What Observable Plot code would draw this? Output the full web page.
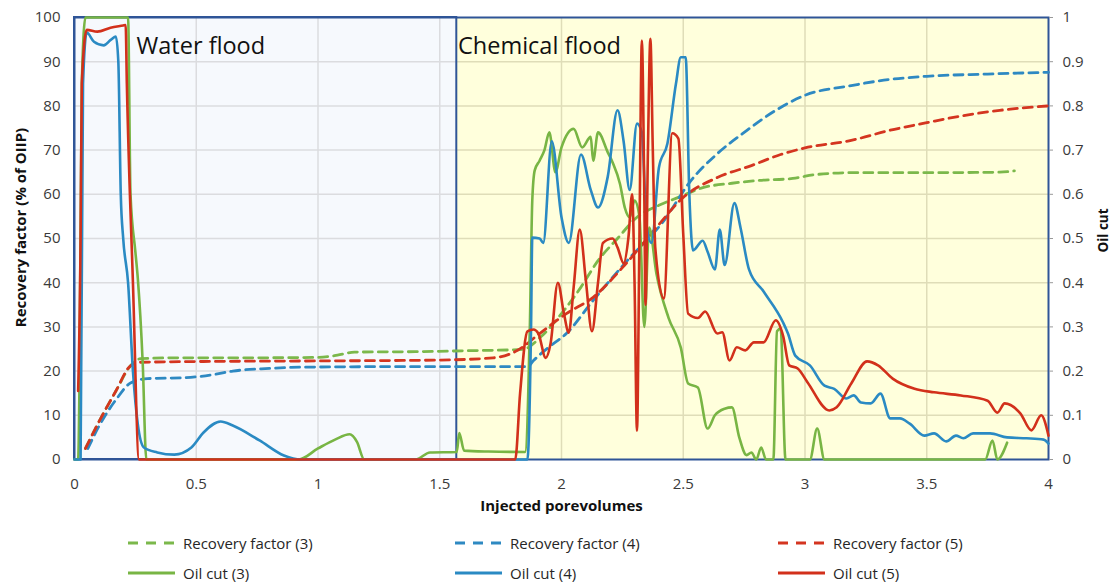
<!DOCTYPE html>
<html>
<head>
<meta charset="utf-8">
<script src="https://cdn.jsdelivr.net/npm/d3@7"></script>
<script src="https://cdn.jsdelivr.net/npm/@observablehq/plot@0.6"></script>
<style>
  body { margin: 0; background: #fff; font-family: "Open Sans", sans-serif; }
  #legend { position: relative; width: 1113px; height: 59px; }
  .item { position: absolute; display: flex; align-items: center; font-size: 15px; color: #262626; line-height: 1; }
  .item svg { margin-right: 8px; }
</style>
</head>
<body>
<div id="chart"></div>
<div id="legend"></div>
<script>
// Recovery factor (% of OIIP) vs injected porevolumes
const rf3 = [[0.045,2.5],[0.1,8.5],[0.17,15.5],[0.23,21.2],[0.27,22.8],[0.4,23],[0.7,23],[1.0,23.1],[1.08,23.6],[1.15,24.3],[1.4,24.4],[1.6,24.6],[1.84,24.9],[1.92,28],[2.0,33],[2.08,39],[2.15,45],[2.23,50],[2.31,54.8],[2.4,57.5],[2.48,59.3],[2.58,61.5],[2.7,62.5],[2.8,63.1],[2.95,63.6],[3.05,64.5],[3.2,64.9],[3.5,64.9],[3.8,65],[3.86,65.3]];
const rf4 = [[0.055,2.5],[0.1,7.5],[0.17,13.5],[0.23,17.3],[0.3,18.3],[0.45,18.5],[0.57,19.2],[0.65,20],[0.8,20.6],[0.95,20.9],[1.3,21],[1.86,21],[1.885,22.4],[1.95,25.5],[2.02,28.5],[2.13,36],[2.27,45],[2.42,54],[2.53,63],[2.64,69.2],[2.76,74.4],[2.88,79],[3.0,82.4],[3.19,84.6],[3.35,86],[3.5,86.7],[3.75,87.2],[4,87.6]];
const rf5 = [[0.045,2.5],[0.1,8.5],[0.17,15.5],[0.23,21.2],[0.27,22],[0.6,22.2],[1.0,22.3],[1.5,22.5],[1.72,23],[1.82,24.7],[1.91,28.5],[2.02,33],[2.13,36.7],[2.25,43.4],[2.39,52.5],[2.5,59.3],[2.64,63.8],[2.78,66.5],[2.9,69],[3.0,70.5],[3.19,72.2],[3.35,74.5],[3.5,76.2],[3.65,77.8],[3.8,79],[4,80]];

// Oil cut (fraction) vs injected porevolumes
const oc3 = [[0,0],[0.015,0],[0.02,0.15],[0.03,0.85],[0.045,1],[0.22,1],[0.23,0.6],[0.25,0.47],[0.26,0.41],[0.28,0.22],[0.295,0],[0.92,0],[1.0,0.025],[1.07,0.045],[1.13,0.057],[1.16,0.04],[1.19,0],[1.4,0],[1.46,0.016],[1.57,0.017],[1.58,0.06],[1.6,0.02],[1.7,0.018],[1.85,0.017],[1.87,0.3],[1.88,0.586],[1.89,0.654],[1.91,0.676],[1.93,0.70],[1.95,0.74],[1.975,0.65],[2.0,0.706],[2.05,0.748],[2.085,0.706],[2.12,0.73],[2.13,0.676],[2.15,0.74],[2.19,0.695],[2.21,0.672],[2.24,0.624],[2.26,0.57],[2.28,0.548],[2.30,0.586],[2.32,0.55],[2.34,0.30],[2.36,0.525],[2.39,0.42],[2.44,0.32],[2.49,0.253],[2.52,0.172],[2.56,0.163],[2.60,0.07],[2.63,0.10],[2.67,0.115],[2.70,0.118],[2.73,0.05],[2.76,0.01],[2.78,0.016],[2.8,0],[2.82,0.027],[2.84,0],[2.87,0],[2.885,0.29],[2.90,0.296],[2.92,0],[3.02,0],[3.05,0.07],[3.08,0],[3.74,0],[3.77,0.043],[3.79,0],[3.83,0.038]];
const oc4 = [[0,0],[0.025,0],[0.035,0.85],[0.05,0.966],[0.08,0.945],[0.12,0.937],[0.15,0.95],[0.17,0.957],[0.18,0.9],[0.19,0.6],[0.2,0.5],[0.22,0.4],[0.24,0.2],[0.26,0.08],[0.285,0.027],[0.34,0.016],[0.41,0.011],[0.48,0.027],[0.53,0.061],[0.60,0.086],[0.65,0.077],[0.76,0.043],[0.86,0.009],[0.93,0],[1.86,0],[1.875,0.3],[1.88,0.502],[1.91,0.50],[1.925,0.49],[1.96,0.72],[2.0,0.548],[2.03,0.49],[2.08,0.69],[2.12,0.61],[2.15,0.57],[2.19,0.64],[2.23,0.79],[2.255,0.72],[2.28,0.61],[2.31,0.76],[2.33,0.74],[2.35,0.525],[2.37,0.49],[2.40,0.66],[2.435,0.715],[2.47,0.85],[2.49,0.91],[2.51,0.91],[2.525,0.6],[2.54,0.473],[2.58,0.495],[2.6,0.47],[2.63,0.43],[2.65,0.52],[2.67,0.44],[2.71,0.58],[2.735,0.525],[2.77,0.43],[2.83,0.38],[2.91,0.31],[2.93,0.285],[2.96,0.235],[3.02,0.213],[3.08,0.167],[3.12,0.16],[3.17,0.138],[3.2,0.145],[3.23,0.129],[3.27,0.127],[3.31,0.149],[3.35,0.093],[3.39,0.093],[3.43,0.081],[3.49,0.054],[3.53,0.059],[3.58,0.041],[3.62,0.054],[3.65,0.048],[3.69,0.059],[3.76,0.059],[3.83,0.05],[3.91,0.048],[3.98,0.045],[4.0,0.036]];
const oc5 = [[0.015,0.155],[0.025,0.5],[0.03,0.85],[0.05,0.972],[0.094,0.968],[0.148,0.977],[0.20,0.982],[0.21,0.983],[0.215,0.85],[0.24,0.4],[0.265,0],[1.81,0],[1.83,0.15],[1.86,0.29],[1.885,0.294],[1.905,0.285],[1.935,0.23],[1.955,0.262],[1.985,0.40],[2.01,0.33],[2.03,0.287],[2.05,0.39],[2.075,0.52],[2.10,0.405],[2.125,0.29],[2.15,0.40],[2.17,0.49],[2.21,0.50],[2.23,0.48],[2.255,0.444],[2.275,0.503],[2.29,0.60],[2.30,0.4],[2.31,0.065],[2.32,0.5],[2.33,0.948],[2.34,0.6],[2.345,0.35],[2.355,0.7],[2.365,0.952],[2.375,0.7],[2.385,0.48],[2.42,0.364],[2.455,0.738],[2.48,0.726],[2.50,0.51],[2.52,0.33],[2.56,0.32],[2.59,0.335],[2.64,0.285],[2.66,0.288],[2.69,0.224],[2.72,0.254],[2.755,0.247],[2.79,0.265],[2.83,0.265],[2.88,0.315],[2.91,0.28],[2.935,0.213],[2.97,0.206],[3.01,0.175],[3.10,0.111],[3.13,0.118],[3.19,0.172],[3.255,0.222],[3.30,0.213],[3.36,0.183],[3.45,0.16],[3.53,0.152],[3.64,0.145],[3.75,0.133],[3.79,0.106],[3.82,0.127],[3.885,0.104],[3.93,0.066],[3.97,0.10],[4.0,0.054]];

// Flood stages shaded behind the curves
const stages = [
  {name: "Water flood", start: 0, end: 1.57, labelX: 0.255, fill: "#f6f9fd", grid: "#dbdcdf"},
  {name: "Chemical flood", start: 1.57, end: 4, labelX: 1.575, fill: "#ffffdc", grid: "#dfddb8"}
];

const xTicks = [0, 0.5, 1, 1.5, 2, 2.5, 3, 3.5, 4];
const yTicks = [0, 10, 20, 30, 40, 50, 60, 70, 80, 90, 100];

const series = [
  {name: "Recovery factor (3)", data: rf3, color: "#7bb84b", dashed: true, cut: false},
  {name: "Recovery factor (4)", data: rf4, color: "#2e89c2", dashed: true, cut: false},
  {name: "Recovery factor (5)", data: rf5, color: "#d43520", dashed: true, cut: false},
  {name: "Oil cut (3)", data: oc3, color: "#78b544", dashed: false, cut: true},
  {name: "Oil cut (4)", data: oc4, color: "#2a8ac3", dashed: false, cut: true},
  {name: "Oil cut (5)", data: oc5, color: "#d2301b", dashed: false, cut: true}
];

const frameBlue = "#2f5597";
const fmt = d3.format("~g");
const gridY = yTicks.filter(v => v > 0 && v < 100);
const gridX = xTicks.filter(v => v > 0 && v < 4);

const marks = [];
for (const s of stages) {
  marks.push(Plot.rect([s], {x1: "start", x2: "end", y1: 0, y2: 100, fill: s.fill}));
  marks.push(Plot.ruleY(gridY, {x1: s.start, x2: s.end, stroke: s.grid, strokeWidth: 1.5}));
  marks.push(Plot.ruleX(gridX.filter(v => v > s.start && v < s.end), {y1: 0, y2: 100, stroke: s.grid, strokeWidth: 1.5}));
}
marks.push(Plot.rect([stages[0]], {x1: "start", x2: "end", y1: 0, y2: 100, fill: "none", stroke: frameBlue, strokeWidth: 2}));
marks.push(Plot.frame({stroke: frameBlue, strokeWidth: 2}));

for (const s of series) {
  marks.push(Plot.line(s.data, {
    x: d => d[0],
    y: s.cut ? d => d[1] * 100 : d => d[1],
    stroke: s.color,
    strokeWidth: s.dashed ? 2.8 : 2.6,
    strokeDasharray: s.dashed ? "9,6" : null,
    curve: "monotone-x"
  }));
}

marks.push(Plot.text(stages, {x: "labelX", y: 100, text: "name", textAnchor: "start", dy: 29, fontSize: 23.5, fill: "#111"}));

marks.push(Plot.axisX({ticks: xTicks, tickSize: 0, tickPadding: 19, tickFormat: fmt, label: null, fontSize: 15}));
marks.push(Plot.axisY({ticks: yTicks, tickSize: 0, tickPadding: 14, tickFormat: fmt, label: null, fontSize: 15}));
marks.push(Plot.axisY({anchor: "right", ticks: yTicks, tickSize: 4, tickPadding: 10, tickFormat: d => fmt(d / 100), label: null, fontSize: 15, stroke: "#999"}));

marks.push(Plot.text(["Injected porevolumes"], {frameAnchor: "bottom", textAnchor: "middle", dy: 51, fontWeight: "bold", fontSize: 15, fill: "#111"}));
marks.push(Plot.text(["Recovery factor (% of OIIP)"], {frameAnchor: "left", textAnchor: "middle", dx: -53, dy: -11, rotate: -90, fontWeight: "bold", fontSize: 15, fill: "#111"}));
marks.push(Plot.text(["Oil cut"], {frameAnchor: "right", textAnchor: "middle", dx: 55, dy: -8, rotate: -90, fontWeight: "bold", fontSize: 13.5, fill: "#111"}));

const chart = Plot.plot({
  width: 1113,
  height: 525,
  marginLeft: 74,
  marginRight: 65,
  marginTop: 17,
  marginBottom: 66,
  x: {domain: [0, 4]},
  y: {domain: [0, 100]},
  style: {fontFamily: "Open Sans", fontSize: "15px", color: "#3a3a3a", background: "#fff"},
  marks
});
document.getElementById("chart").appendChild(chart);

// Legend: two rows of three entries under the x axis
const legend = d3.select("#legend");
const colLeft = [128, 455, 778];
const rowMid = [18, 48];
series.forEach((s, i) => {
  const item = legend.append("div").attr("class", "item")
    .style("left", colLeft[i % 3] + "px")
    .style("top", (rowMid[Math.floor(i / 3)] - 10) + "px")
    .style("height", "20px");
  const sw = item.append("svg").attr("width", 47).attr("height", 10);
  sw.append("line").attr("x1", 0).attr("x2", 47).attr("y1", 5).attr("y2", 5)
    .attr("stroke", s.color).attr("stroke-width", s.dashed ? 2.8 : 3)
    .attr("stroke-dasharray", s.dashed ? "10,8" : null);
  item.append("span").text(s.name);
});
</script>
</body>
</html>
